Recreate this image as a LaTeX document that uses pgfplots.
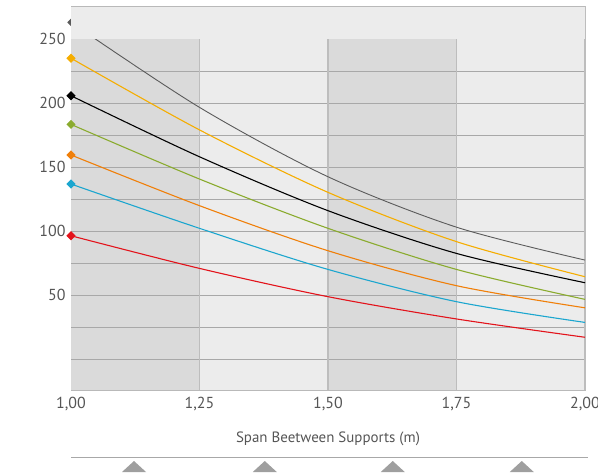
\documentclass[border=0pt]{standalone}
\usepackage{pgfplots}
\pgfplotsset{compat=1.18}
\usepackage{fontspec}
\setmainfont{PT Sans}
\definecolor{bandD}{HTML}{DADADA}
\definecolor{bandL}{HTML}{ECECEC}
\definecolor{gridc}{HTML}{A8A8A8}
\definecolor{vline}{HTML}{BDBDBD}
\definecolor{txt}{HTML}{555555}
\definecolor{cGray}{HTML}{5A5A5A}
\definecolor{cYel}{HTML}{F5AD00}
\definecolor{cGreen}{HTML}{8AAB2E}
\definecolor{cOrange}{HTML}{F07F09}
\definecolor{cBlue}{HTML}{1BA6CF}
\definecolor{cRed}{HTML}{E3131B}
\begin{document}
\begin{tikzpicture}
\begin{axis}[
  set layers,
  at={(0,0)}, anchor=south west,
  scale only axis, width=514bp, height=384bp,
  xmin=1, xmax=2, ymin=-24.2, ymax=275.8,
  clip=false,
  axis line style={draw=gridc!80, line width=0.8pt},
  xtick={1,1.25,1.5,1.75,2},
  xticklabels={{1,00},{1,25},{1,50},{1,75},{2,00}},
  ytick={50,100,150,200,250},
  major tick length=0pt,
  tick label style={font=\fontsize{16}{18}\selectfont, text=txt},
  yticklabel style={xshift=-2bp},
  xticklabel style={yshift=-4bp},
  xlabel={Span Beetween Supports (m)},
  xlabel style={font=\fontsize{15}{17}\selectfont, text=txt, yshift=-14bp},
  /pgf/number format/assume math mode=true,
  every axis plot/.append style={line width=1.1pt},
]
% background bands
\fill[bandD] (axis cs:1,-24.2) rectangle (axis cs:1.25,250);
\fill[bandL] (axis cs:1.25,-24.2) rectangle (axis cs:1.5,250);
\fill[bandD] (axis cs:1.5,-24.2) rectangle (axis cs:1.75,250);
\fill[bandL] (axis cs:1.75,-24.2) rectangle (axis cs:2,250);
% horizontal gridlines
\draw[gridc, line width=1pt] (axis cs:1,0) -- (axis cs:2,0);
\draw[gridc, line width=1pt] (axis cs:1,25) -- (axis cs:2,25);
\draw[gridc, line width=1pt] (axis cs:1,50) -- (axis cs:2,50);
\draw[gridc, line width=1pt] (axis cs:1,75) -- (axis cs:2,75);
\draw[gridc, line width=1pt] (axis cs:1,100) -- (axis cs:2,100);
\draw[gridc, line width=1pt] (axis cs:1,125) -- (axis cs:2,125);
\draw[gridc, line width=1pt] (axis cs:1,150) -- (axis cs:2,150);
\draw[gridc, line width=1pt] (axis cs:1,175) -- (axis cs:2,175);
\draw[gridc, line width=1pt] (axis cs:1,200) -- (axis cs:2,200);
\draw[gridc, line width=1pt] (axis cs:1,225) -- (axis cs:2,225);
% vertical lines
\draw[vline, line width=1.3pt] (axis cs:1.25,-24.2) -- (axis cs:1.25,250);
\draw[vline, line width=1.3pt] (axis cs:1.5,-24.2) -- (axis cs:1.5,250);
\draw[vline, line width=1.3pt] (axis cs:1.75,-24.2) -- (axis cs:1.75,250);
\draw[vline, line width=1.3pt] (axis cs:2,-24.2) -- (axis cs:2,250);

\addplot[cRed, smooth, mark=square*, mark indices={1}, mark options={rotate=45, scale=1.35, solid}] coordinates {(1,96.3) (1.25,70.8) (1.5,48.7) (1.75,31.3) (2,17)};
\addplot[cBlue, smooth, mark=square*, mark indices={1}, mark options={rotate=45, scale=1.35, solid}] coordinates {(1,136.7) (1.25,102.1) (1.5,70) (1.75,44.8) (2,28.6)};
\addplot[cOrange, smooth, mark=square*, mark indices={1}, mark options={rotate=45, scale=1.35, solid}] coordinates {(1,159.4) (1.25,119.8) (1.5,84.6) (1.75,57.3) (2,40)};
\addplot[cGreen, smooth, mark=square*, mark indices={1}, mark options={rotate=45, scale=1.35, solid}] coordinates {(1,183.3) (1.25,140.6) (1.5,102.1) (1.75,70) (2,46.6)};
\addplot[black, smooth, mark=square*, mark indices={1}, mark options={rotate=45, scale=1.35, solid}] coordinates {(1,205.7) (1.25,158) (1.5,115.9) (1.75,82.5) (2,59.6)};
\addplot[cYel, smooth, mark=square*, mark indices={1}, mark options={rotate=45, scale=1.35, solid}] coordinates {(1,235) (1.25,179) (1.5,130.2) (1.75,91.7) (2,64.3)};
\addplot[cGray, line width=0.9pt, smooth, mark=square*, mark indices={1}, mark options={rotate=45, scale=1.1, solid}] coordinates {(1,263) (1.25,196.6) (1.5,142.4) (1.75,103) (2,77.3)};

% top band covering the region above 250
\begin{pgfonlayer}{axis foreground}
\fill[bandL] (axis cs:1,250) rectangle (axis cs:2,275.8);
\draw[gridc!80, line width=0.8pt] (axis cs:1,275.8) -- (axis cs:2,275.8);
\draw[vline, line width=1pt] (axis cs:2,250) -- (axis cs:2,275.8);
\end{pgfonlayer}

% decorative bottom rule and support triangles
\draw[gridc, line width=0.8pt] ([yshift=-67bp]axis cs:1,-24.2) -- ([xshift=3bp,yshift=-67bp]axis cs:2,-24.2);
\fill[gray!75] ([xshift=-12bp,yshift=-82bp]axis cs:1.1226,-24.2) -- ([yshift=-71bp]axis cs:1.1226,-24.2) -- ([xshift=12bp,yshift=-82bp]axis cs:1.1226,-24.2) -- cycle;
\fill[gray!75] ([xshift=-12bp,yshift=-82bp]axis cs:1.377,-24.2) -- ([yshift=-71bp]axis cs:1.377,-24.2) -- ([xshift=12bp,yshift=-82bp]axis cs:1.377,-24.2) -- cycle;
\fill[gray!75] ([xshift=-12bp,yshift=-82bp]axis cs:1.626,-24.2) -- ([yshift=-71bp]axis cs:1.626,-24.2) -- ([xshift=12bp,yshift=-82bp]axis cs:1.626,-24.2) -- cycle;
\fill[gray!75] ([xshift=-12bp,yshift=-82bp]axis cs:1.877,-24.2) -- ([yshift=-71bp]axis cs:1.877,-24.2) -- ([xshift=12bp,yshift=-82bp]axis cs:1.877,-24.2) -- cycle;
\end{axis}
\pgfresetboundingbox
\path[use as bounding box] (-71bp,-84bp) rectangle (527bp,390bp);
\end{tikzpicture}
\end{document}
